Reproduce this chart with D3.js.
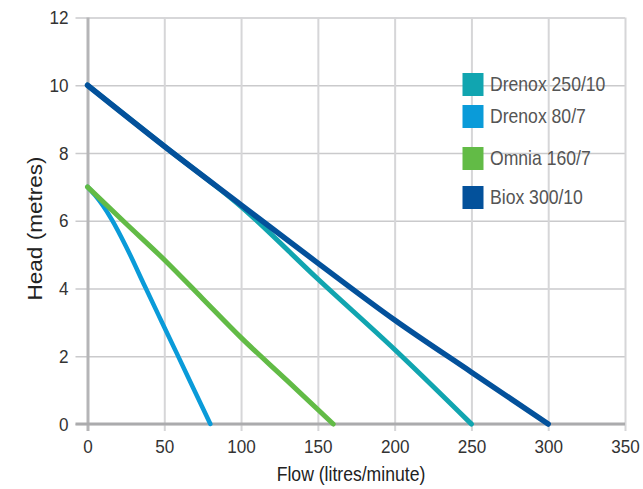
<!DOCTYPE html>
<html>
<head>
<meta charset="utf-8">
<script src="https://cdn.jsdelivr.net/npm/d3@7"></script>
<style>
  html, body { margin: 0; padding: 0; background: #fff; }
  svg { display: block; font-family: "Liberation Sans", Arial, sans-serif; }
</style>
</head>
<body>
<svg id="chart" width="643" height="489"></svg>
<script>
// ---- data ----
const seriesNames = ["Drenox 250/10", "Drenox 80/7", "Omnia 160/7", "Biox 300/10"];
const seriesColors = ["#11a5b0", "#0a9bd9", "#62bb46", "#03519b"];

const drenox250Flow = [0, 50, 100, 150, 200, 250];
const drenox250Head = [10, 8.2, 6.42, 4.28, 2.2, 0];

const drenox80Flow = [0, 5, 10, 16, 25, 37.5, 48, 58, 69, 80];
const drenox80Head = [7, 6.75, 6.45, 6.02, 5.25, 4.05, 3.05, 2.1, 1.05, 0];

const omniaFlow = [0, 25, 50, 75, 100, 130, 160];
const omniaHead = [7, 5.92, 4.85, 3.7, 2.55, 1.28, 0];

const bioxFlow = [0, 50, 100, 150, 200, 250, 300];
const bioxHead = [10, 8.2, 6.47, 4.75, 3.07, 1.53, 0];

const xTicks = [0, 50, 100, 150, 200, 250, 300, 350];
const yTicks = [0, 2, 4, 6, 8, 10, 12];
const xTitle = "Flow (litres/minute)";
const yTitle = "Head (metres)";

// ---- layout ----
(function () {
const svg = d3.select("#chart");
const pLeft = 87.5, pRight = 625, pTop = 17.5, pBottom = 424;
const x = d3.scaleLinear().domain([0, 350]).range([pLeft, pRight]);
const y = d3.scaleLinear().domain([0, 12]).range([pBottom, pTop]);
const SX = 0.9; // condensed look for tick labels

function condense(sel, s) {
  sel.each(function () {
    const t = d3.select(this);
    const tx = +t.attr("x") || 0;
    t.attr("transform", `translate(${tx},0) scale(${s},1) translate(${-tx},0)`);
  });
}

// horizontal gridlines / y axis
const gy = svg.append("g").attr("transform", `translate(${pLeft - 12},0)`)
  .call(d3.axisLeft(y).tickValues(yTicks).tickSizeInner(-(pRight - pLeft + 12)).tickSizeOuter(0).tickPadding(7));
gy.select(".domain").remove();
gy.selectAll(".tick line").attr("stroke", "#cacacc").attr("stroke-width", 1.6);
gy.selectAll(".tick text").attr("fill", "#333").attr("font-size", 19)
  .attr("font-family", "Liberation Sans, Arial, sans-serif").call(condense, SX);

// vertical gridlines / x axis
const gx = svg.append("g").attr("transform", `translate(0,${pBottom + 7})`)
  .call(d3.axisBottom(x).tickValues(xTicks).tickSizeInner(-(pBottom + 7 - pTop)).tickSizeOuter(0).tickPadding(9));
gx.select(".domain").remove();
gx.selectAll(".tick line").attr("stroke", d => d === 0 ? "#b5b5b7" : "#d6d6d8")
  .attr("stroke-width", d => d === 0 ? 3 : 2);
gx.selectAll(".tick text").attr("fill", "#333").attr("font-size", 19)
  .attr("font-family", "Liberation Sans, Arial, sans-serif").call(condense, SX);

// baseline (value 0 on y) drawn on top
svg.append("line").attr("x1", pLeft - 12).attr("x2", pRight)
  .attr("y1", y(0)).attr("y2", y(0)).attr("stroke", "#ababad").attr("stroke-width", 3);

// titles
svg.append("text").attr("x", 351).attr("y", 481).attr("text-anchor", "middle")
  .attr("font-size", 20).attr("fill", "#222").text(xTitle)
  .attr("transform", `translate(351,0) scale(0.88,1) translate(-351,0)`);
svg.append("text").attr("text-anchor", "middle").attr("font-size", 20.5).attr("fill", "#222")
  .attr("transform", `translate(41.5,228.5) rotate(-90) scale(1.1,1)`).text(yTitle);

// lines
const line = d3.line().x(d => x(d[0])).y(d => y(d[1])).curve(d3.curveMonotoneX);
const seriesData = [
  d3.zip(drenox250Flow, drenox250Head),
  d3.zip(drenox80Flow, drenox80Head),
  d3.zip(omniaFlow, omniaHead),
  d3.zip(bioxFlow, bioxHead)
];
const drawOrder = [1, 2, 0, 3];
const widths = [5, 4.5, 5, 5.5];
drawOrder.forEach(i => {
  svg.append("path").datum(seriesData[i]).attr("d", line)
    .attr("fill", "none").attr("stroke", seriesColors[i])
    .attr("stroke-width", widths[i]).attr("stroke-linecap", "round").attr("stroke-linejoin", "round");
});

// legend
const legendTops = [73, 105, 147, 186];
const lg = svg.append("g");
seriesNames.forEach((name, i) => {
  lg.append("rect").attr("x", 462.5).attr("y", legendTops[i]).attr("width", 21).attr("height", 23)
    .attr("fill", seriesColors[i]);
  lg.append("text").attr("x", 490).attr("y", legendTops[i] + 18.5)
    .attr("font-size", 20).attr("fill", "#555").text(name)
    .attr("transform", `translate(490,0) scale(0.88,1) translate(-490,0)`);
});
})();
</script>
</body>
</html>
